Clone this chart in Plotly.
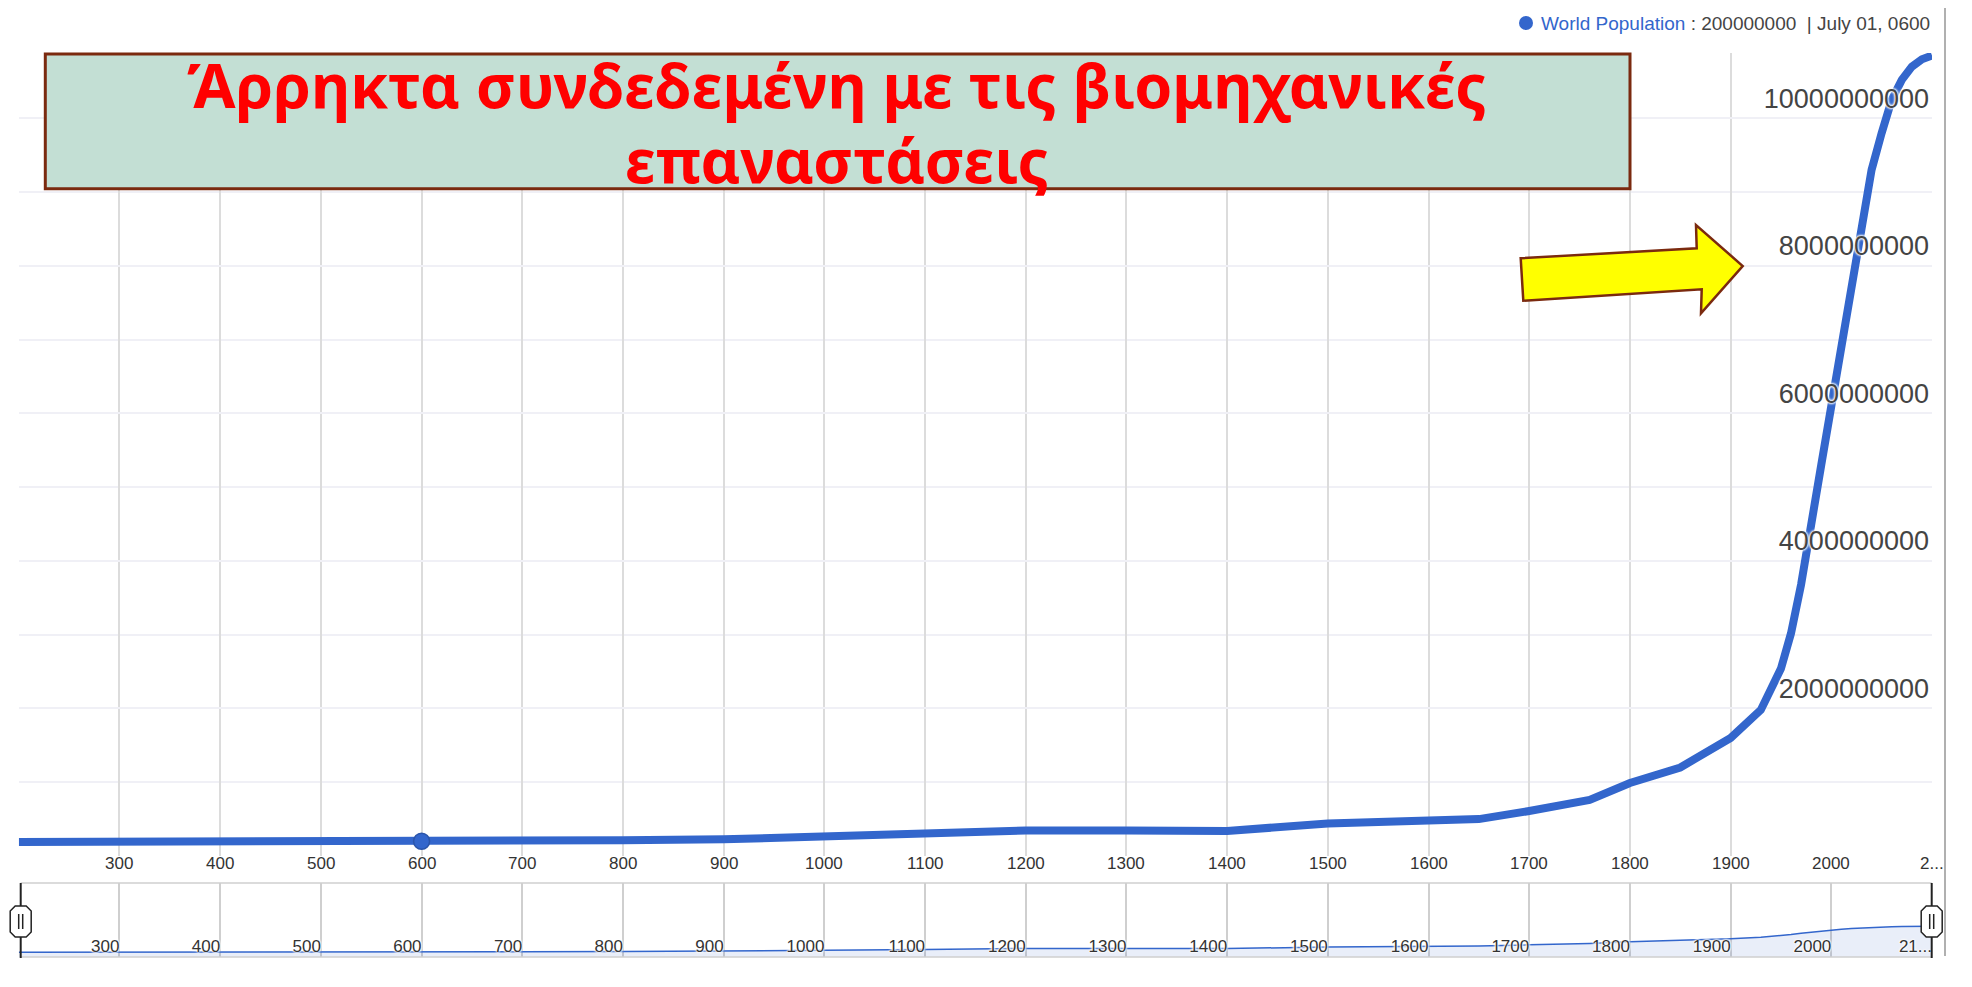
import plotly.graph_objects as go

# world population estimates
years = [200, 400, 500, 600, 700, 800, 900, 1000, 1100, 1200, 1300, 1400,
         1500, 1600, 1650, 1700, 1760, 1800, 1850, 1900, 1930, 1950, 1960,
         1970, 1980, 1990, 2000, 2010, 2020, 2030, 2040, 2050, 2060, 2070,
         2080, 2090, 2100]
population = [190e6, 190e6, 195e6, 200e6, 207e6, 215e6, 226e6, 260e6, 300e6,
              345e6, 345e6, 340e6, 440e6, 475e6, 500e6, 610e6, 760e6, 990e6,
              1200e6, 1600e6, 1980e6, 2540e6, 3020e6, 3680e6, 4430e6, 5300e6,
              6100e6, 6920e6, 7750e6, 8550e6, 9300e6, 9800e6, 10250e6,
              10520e6, 10700e6, 10800e6, 10850e6]
highlight = 3  # July 01, 0600

x_ticks = list(range(300, 2200, 100))
x_labels = [str(v) for v in x_ticks[:-1]] + ["2..."]
nav_labels = [str(v) for v in x_ticks[:-1]] + ["21..."]
y_ticks = [2e9, 4e9, 6e9, 8e9, 10e9]
y_minor = [1e9, 3e9, 5e9, 7e9, 9e9]

title_lines = ["Άρρηκτα συνδεδεμένη με τις βιομηχανικές", "επαναστάσεις"]

BLUE = "#3366cc"
W, H = 1956, 960
OFF = 8  # default body margin of the html page


def px(x):
    return (x - OFF) / W


def py(y):
    return 1 - (y - OFF) / H


fig = go.Figure()

fig.add_trace(go.Scatter(
    x=years, y=population, mode="lines",
    line=dict(color=BLUE, width=8), hoverinfo="skip",
    xaxis="x", yaxis="y"
))
fig.add_trace(go.Scatter(
    x=[years[highlight]], y=[population[highlight]], mode="markers",
    marker=dict(color=BLUE, size=16, line=dict(color="#2b55aa", width=1.5)),
    xaxis="x", yaxis="y"
))
# overview strip underneath
fig.add_trace(go.Scatter(
    x=years, y=population, mode="lines", fill="tozeroy",
    fillcolor="rgba(51,102,204,0.11)",
    line=dict(color=BLUE, width=1.5), hoverinfo="skip",
    xaxis="x2", yaxis="y2"
))

FONT = "Liberation Sans, Arial"
halo = "0 0 2px #fff, 0 0 2px #fff, 0 0 3px #fff, 0 0 3px #fff"

fig.update_layout(
    width=W, height=H, autosize=False,
    margin=dict(l=0, r=0, t=0, b=0),
    paper_bgcolor="white", plot_bgcolor="white",
    showlegend=False,
    xaxis=dict(
        domain=[px(18.8), px(1932)], range=[200, 2100],
        tickvals=x_ticks, showticklabels=False, ticks="",
        showgrid=True, gridcolor="#dcdcdc", gridwidth=1.5,
        zeroline=False, showline=False,
    ),
    yaxis=dict(
        domain=[py(856), py(53)], range=[0, 10.885e9],
        side="right", ticklabelposition="inside top", ticklabelshift=-1,
        tickvals=y_ticks, tickformat="d", ticks="",
        showgrid=True, gridcolor="#f0f0f6", gridwidth=1.5,
        minor=dict(tickvals=y_minor, showgrid=True,
                   gridcolor="#f0f0f6", gridwidth=1.5),
        zeroline=False, showline=False,
        tickfont=dict(family=FONT, size=27, color="#444444", shadow=halo),
    ),
    xaxis2=dict(
        domain=[px(18.8), px(1932)], range=[200, 2100], anchor="y2",
        tickvals=x_ticks, ticktext=nav_labels, ticks="",
        ticklabelposition="inside left", ticklabelstandoff=-4,
        showgrid=True, gridcolor="#cfcfcf", gridwidth=1.5,
        zeroline=False, showline=False,
        tickfont=dict(family=FONT, size=17, color="#333333", shadow=halo),
    ),
    yaxis2=dict(
        domain=[py(957), py(883)], type="log", range=[7.963, 12.963],
        anchor="x2", showgrid=False, showticklabels=False,
        zeroline=False, showline=False, ticks="",
    ),
)

# main x labels, centred under each gridline
for v, t in zip(x_ticks, x_labels):
    fig.add_annotation(x=v, xref="x", y=py(863), yref="paper",
                       text=t, showarrow=False, xanchor="center",
                       yanchor="middle",
                       font=dict(family=FONT, size=17, color="#333333"))

shapes = []
# outer frame
grey = dict(color="#b0b0b0", width=2)
for x0, y0, x1, y1 in [(4, 3, 4, 956), (4, 3, 1945, 3), (1945, 3, 1945, 956)]:
    shapes.append(dict(type="line", xref="paper", yref="paper",
                       x0=px(x0), y0=py(y0), x1=px(x1), y1=py(y1), line=grey))
# overview frame lines
for yy in (883, 957):
    shapes.append(dict(type="line", xref="paper", yref="paper",
                       x0=px(20.7), x1=px(1931.7), y0=py(yy), y1=py(yy),
                       line=dict(color="#cfcfcf", width=1.5)))
# range handles
for hx in (20.7, 1931.7):
    shapes.append(dict(type="line", xref="paper", yref="paper",
                       x0=px(hx), x1=px(hx), y0=py(883), y1=py(958),
                       line=dict(color="#222", width=2)))
    l, r, t, b, c = hx - 10.5, hx + 10.5, 906, 937, 5
    pts = [(l, t + c), (l + c, t), (r - c, t), (r, t + c),
           (r, b - c), (r - c, b), (l + c, b), (l, b - c)]
    path = "M " + " L ".join(f"{px(a)},{py(bb)}" for a, bb in pts) + " Z"
    shapes.append(dict(type="path", xref="paper", yref="paper", path=path,
                       fillcolor="white", line=dict(color="#222", width=1.5)))
    for dx in (-2, 2):
        shapes.append(dict(type="line", xref="paper", yref="paper",
                           x0=px(hx + dx), x1=px(hx + dx), y0=py(914), y1=py(929),
                           line=dict(color="#222", width=1.5)))
# title box
shapes.append(dict(type="rect", xref="paper", yref="paper",
                   x0=px(45.3), x1=px(1630), y0=py(188.7), y1=py(54),
                   fillcolor="#c3dfd4", line=dict(color="#7b2a0f", width=3)))
# yellow arrow
arrow = [(1520.7, 258.3), (1696.7, 248.3), (1696, 225), (1742.7, 266),
         (1701, 313.3), (1701.7, 289.3), (1523.3, 300.7)]
path = "M " + " L ".join(f"{px(a)},{py(b)}" for a, b in arrow) + " Z"
shapes.append(dict(type="path", xref="paper", yref="paper", path=path,
                   fillcolor="#ffff00", line=dict(color="#7b2a0f", width=2.5)))
# legend dot
shapes.append(dict(type="circle", xref="paper", yref="paper",
                   x0=px(1519), x1=px(1533), y0=py(30), y1=py(16),
                   fillcolor=BLUE, line=dict(width=0)))
fig.update_layout(shapes=shapes)

legend_text = (
    f"<span style='color:{BLUE}'>World Population</span>"
    f" : {population[highlight]:.0f} &nbsp;| July 01, {years[highlight]:04d}"
)
fig.add_annotation(xref="paper", yref="paper", x=px(1931), y=py(23),
                   xanchor="right", yanchor="middle", showarrow=False,
                   borderpad=0, text=legend_text,
                   font=dict(family=FONT, size=19, color="#444444"))

for line, yc in zip(title_lines, (84.3, 159.3)):
    fig.add_annotation(xref="paper", yref="paper", x=px(837), y=py(yc),
                       xanchor="center", yanchor="middle", showarrow=False,
                       text=line,
                       font=dict(family="Noto Sans", size=61, color="#ff0000",
                                 weight="bold"))

fig.write_html("out.html")
